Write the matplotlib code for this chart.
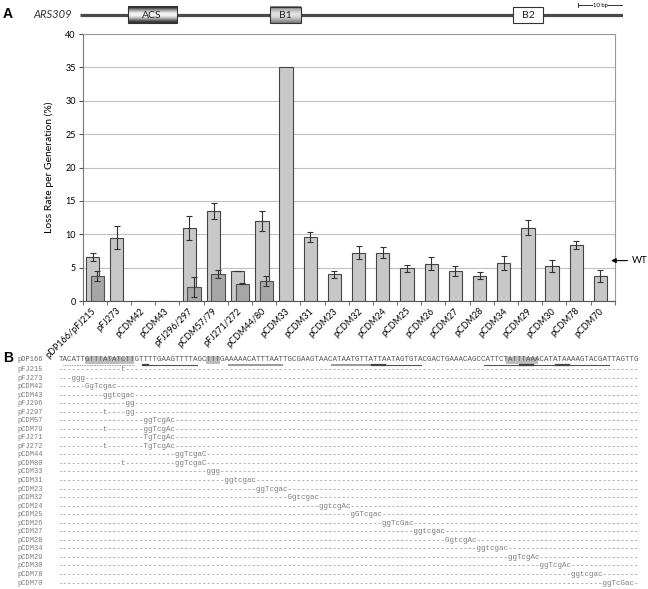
import numpy as np
import matplotlib.pyplot as plt
from matplotlib.patches import Rectangle

# ---------- Panel A: loss rates ----------
constructs = ["pDP166/pFJ215", "pFJ273", "pCDM42", "pCDM43", "pFJ296/297", "pCDM57/79",
              "pFJ271/272", "pCDM44/80", "pCDM33", "pCDM31", "pCDM23", "pCDM32", "pCDM24",
              "pCDM25", "pCDM26", "pCDM27", "pCDM28", "pCDM34", "pCDM29", "pCDM30",
              "pCDM78", "pCDM70"]
loss_light = [6.6, 9.5, 0.05, 0.05, 11.0, 13.5, 4.5, 12.0, 35.0, 9.6, 4.0, 7.25, 7.25,
              4.9, 5.6, 4.45, 3.8, 5.75, 11.0, 5.3, 8.45, 3.8]
err_light = [0.65, 1.7, 0, 0, 1.8, 1.25, 0.05, 1.5, 0, 0.7, 0.55, 0.95, 0.8,
             0.55, 1.0, 0.75, 0.5, 1.05, 1.1, 0.9, 0.6, 0.9]
# second construct of a pair (darker bars)
dark_idx = [0, 4, 5, 6, 7]
loss_dark = [3.7, 2.1, 4.1, 2.6, 3.0]
err_dark = [0.75, 1.5, 0.6, 0.05, 0.7]
wt_level = 6.05

# ARS309 schematic (bp)
region_bp = 122.2
elem_names = ["ACS", "B1", "B2"]
elem_start = [10.7, 42.8, 97.4]
elem_end = [21.8, 49.7, 104.3]
scale_bp = 10

# ---------- Panel B: sequence alignment ----------
ref_name = "pDP166"
ref_seq = ("TACATTGTTTATATCTTGTTTTGAAGTTTTAGCTTTGAAAAACATTTAATTGCGAAGTAAC"
           "ATAATGTTATTAATAGTGTACGACTGAAACAGCCATTCTATTTAAACATATAAAAGTACGATTAGTTG")
mut_names = ["pFJ215", "pFJ273", "pCDM42", "pCDM43", "pFJ296", "pFJ297", "pCDM57",
             "pCDM79", "pFJ271", "pFJ272", "pCDM44", "pCDM80", "pCDM33", "pCDM31",
             "pCDM23", "pCDM32", "pCDM24", "pCDM25", "pCDM26", "pCDM27", "pCDM28",
             "pCDM34", "pCDM29", "pCDM30", "pCDM78", "pCDM70"]
mut_changes = [
    [(14, "t")], [(3, "ggg")], [(6, "GgTcgac")], [(10, "ggtcgac")], [(15, "gg")],
    [(10, "t"), (15, "gg")], [(19, "ggTcgAc")], [(10, "t"), (19, "ggTcgAc")],
    [(19, "TgTcgAc")], [(10, "t"), (19, "TgTcgAc")], [(26, "ggTcgaC")],
    [(14, "t"), (26, "ggTcgaC")], [(33, "ggg")], [(37, "ggtcgac")], [(44, "ggTcgac")],
    [(51, "Ggtcgac")], [(58, "ggtcgAc")], [(65, "gGTcgac")], [(72, "ggTcGac")],
    [(79, "ggtcgac")], [(86, "GgtcgAc")], [(93, "ggtcgac")], [(100, "ggTcgAc")],
    [(107, "ggTcgAc")], [(114, "ggtcgac")], [(121, "ggTcGac")],
]
highlights = [(6, 17), (33, 36), (100, 107)]
uline_dotted = [(1, 17)]
uline_solid = [(20, 31), (72, 81), (95, 123)]
uline_gray = [(38, 50), (61, 70)]
uline_mark = [(19, 20), (70, 73), (103, 106), (111, 114)]

W, H = 648, 589
fig = plt.figure(figsize=(W / 100, H / 100), dpi=100)
sans = "Lato"

# ----- schematic -----
ax_s = fig.add_axes([80 / W, 1 - 31 / H, 542.7 / W, 31 / H])
ax_s.plot([0, region_bp], [15, 15], color="#4a4a4a", lw=2.3, solid_capstyle="butt", zorder=1)
t = np.linspace(0, 1, 64)
shades = {"ACS": 0.18 + 0.78 * np.sin(np.pi * t) ** 1.6,
          "B1": 0.5 + 0.38 * np.sin(np.pi * t) ** 1.4}
for name, s, e in zip(elem_names, elem_start, elem_end):
    if name in shades:
        ax_s.imshow(shades[name].reshape(-1, 1), cmap="gray", vmin=0, vmax=1,
                    extent=(s, e, 23.3, 7), aspect="auto", zorder=2)
        fc = "none"
    else:
        fc = "white"
    ax_s.add_patch(Rectangle((s, 7), e - s, 16.3, facecolor=fc, edgecolor="#333333",
                             lw=0.8, zorder=3))
    ax_s.text((s + e) / 2, 15.5, name, ha="center", va="center", fontsize=7.5,
              family=sans, color="#222222", zorder=4)
sb0 = region_bp - scale_bp
ax_s.plot([sb0, region_bp], [5, 5], color="#333333", lw=0.7)
ax_s.plot([sb0, sb0], [3, 7], color="#333333", lw=0.7)
ax_s.plot([region_bp, region_bp], [3, 7], color="#333333", lw=0.7)
ax_s.text(sb0 + scale_bp / 2, 5, "10 bp", ha="center", va="center", fontsize=4.3,
          family=sans, bbox=dict(facecolor="white", edgecolor="none", pad=0.2))
ax_s.set_xlim(0, region_bp)
ax_s.set_ylim(31, 0)
ax_s.set_axis_off()

fig.text(3 / W, 1 - 14 / H, "A", fontsize=10, fontweight="bold", family="Liberation Sans",
         va="center")
fig.text(72 / W, 1 - 14.5 / H, "ARS309", fontsize=8, style="italic", family=sans,
         ha="right", va="center", color="#333333")

# ----- bar chart -----
ax = fig.add_axes([82.7 / W, 1 - 301 / H, 532 / W, 267 / H])
x = np.arange(len(constructs))
bw = 0.55
ax.bar(x - 0.09, loss_light, bw, color="#c8c8c8", edgecolor="#454545", lw=0.8, zorder=2)
xd = np.array(dark_idx) + 0.1
ax.bar(xd, loss_dark, bw, color="#a6a6a6", edgecolor="#505050", lw=0.8, zorder=3)
el = np.array(err_light)
m = el > 0
ax.errorbar((x - 0.09)[m], np.array(loss_light)[m], yerr=el[m], fmt="none",
            ecolor="#333333", elinewidth=0.8, capsize=2, capthick=0.8, zorder=4)
ax.errorbar(xd, loss_dark, yerr=err_dark, fmt="none", ecolor="#333333",
            elinewidth=0.8, capsize=2, capthick=0.8, zorder=4)

ax.set_xlim(-0.5, len(constructs) - 0.5)
ax.set_ylim(0, 40)
ax.set_yticks(np.arange(0, 41, 5))
ax.yaxis.grid(True, color="#c0c0c0", lw=0.8)
ax.set_axisbelow(True)
ax.set_xticks(x)
ax.set_xticklabels(constructs, rotation=45, ha="right", va="center",
                   rotation_mode="anchor", fontsize=6.5, family=sans)
ax.set_xticks(np.arange(-0.5, len(constructs)), minor=True)
ax.tick_params(axis="x", which="major", length=0, pad=6)
ax.tick_params(axis="x", which="minor", length=3, color="#555555")
ax.tick_params(axis="y", length=3, color="#555555", labelsize=6.5, pad=2)
for lab in ax.get_yticklabels():
    lab.set_family(sans)
ax.set_ylabel("Loss Rate per Generation (%)", fontsize=7.5, family=sans, labelpad=8)
for side in ["top", "right"]:
    ax.spines[side].set_color("#9a9a9a")
ax.spines["left"].set_color("#777777")
ax.spines["bottom"].set_color("#555555")
for sp in ax.spines.values():
    sp.set_linewidth(0.8)

ax.annotate("WT", xy=(len(constructs) - 0.65, wt_level), xytext=(len(constructs) + 0.2, wt_level),
            ha="left", va="center", fontsize=7, family=sans, annotation_clip=False,
            arrowprops=dict(arrowstyle="-|>", color="black", lw=0.8, mutation_scale=7,
                            shrinkA=1, shrinkB=0))

# ----- alignment -----
n = len(ref_seq)
cw = 4.48
axb = fig.add_axes([58.3 / W, 1 - 587.3 / H, n * cw / W, 230.6 / H])
axb.set_xlim(0, n)
axb.set_ylim(len(mut_names) + 0.5, -0.5)
axb.set_axis_off()
fs_seq = cw / 0.6 * 0.72
mono = "Liberation Mono"

for s, e in highlights:
    axb.add_patch(Rectangle((s, -0.68), e - s, 0.98, facecolor="#bdbdbd",
                            edgecolor="none", zorder=0))
axb.text(0, -0.15, ref_seq, family=mono, fontsize=fs_seq, ha="left", va="center",
         color="#555555", zorder=2)
axb.text(-9.2, -0.15, ref_name, family=mono, fontsize=5.0, ha="left", va="center",
         color="#666666")
uy = 0.45
for s, e in uline_dotted:
    axb.plot([s, e], [uy, uy], color="#777777", lw=0.6, ls=(0, (1, 1)))
for s, e in uline_solid:
    axb.plot([s, e], [uy, uy], color="#555555", lw=0.8)
for s, e in uline_gray:
    axb.plot([s, e], [uy, uy], color="#999999", lw=1.4)
for s, e in uline_mark:
    axb.plot([s, e], [uy, uy], color="#444444", lw=1.6)

for i, (name, changes) in enumerate(zip(mut_names, mut_changes), start=1):
    row = ["-"] * n
    for pos, sub in changes:
        row[pos:pos + len(sub)] = list(sub)
    axb.text(0, i, "".join(row), family=mono, fontsize=fs_seq, ha="left", va="center",
             color="#7a7a7a")
    axb.text(-9.2, i, name, family=mono, fontsize=5.0, ha="left", va="center",
             color="#7a7a7a")

fig.text(3 / W, 1 - 358 / H, "B", fontsize=10, fontweight="bold", family="Liberation Sans",
         va="center")

fig.savefig("out.png", dpi=100)
